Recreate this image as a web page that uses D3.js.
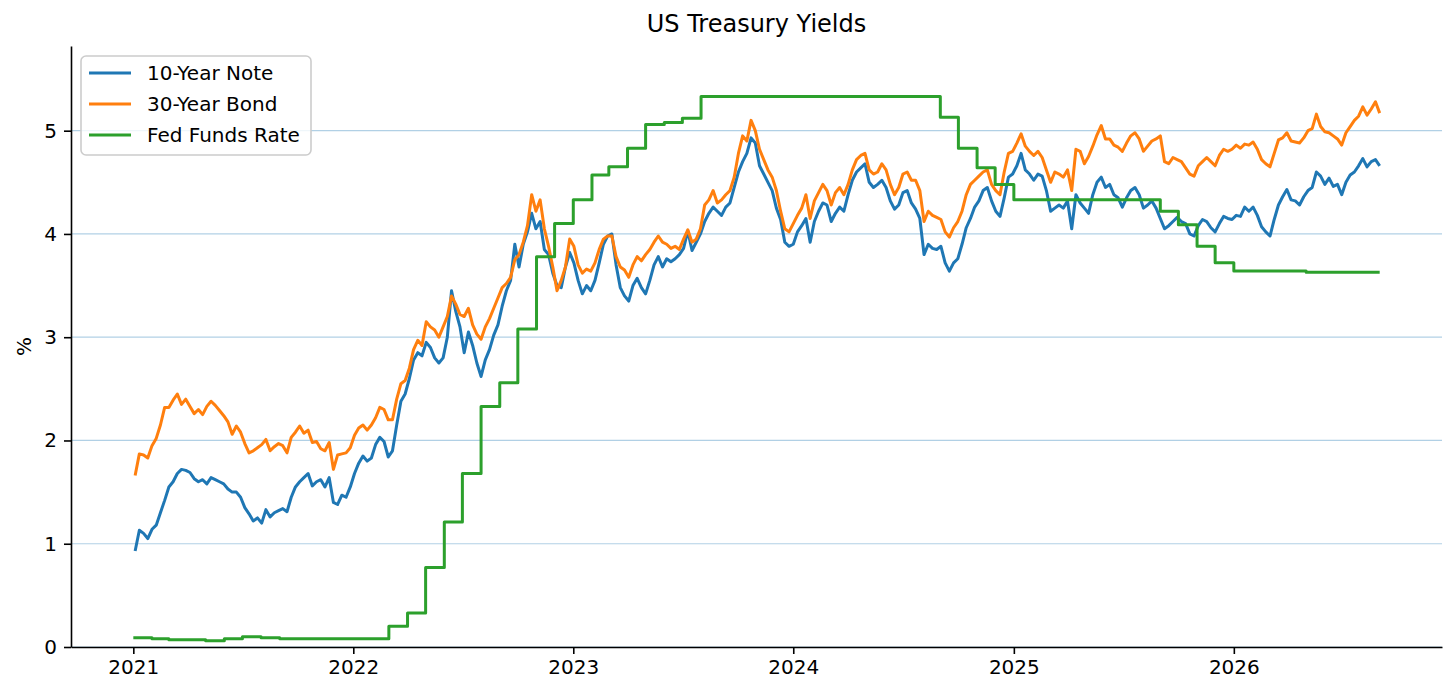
<!DOCTYPE html>
<html lang="en">
<head>
<meta charset="utf-8">
<title>US Treasury Yields</title>
<style>
  body { margin: 0; background: #fff; }
  text { font-family: "DejaVu Sans", sans-serif; fill: #000; }
  .grid line { stroke: #1f77b4; stroke-opacity: 0.35; stroke-width: 1.2px; }
  .axis path, .axis line { stroke: #000; stroke-width: 1.6px; }
  .axis text { font-size: 20px; }
  .series { fill: none; stroke-width: 3px; stroke-linejoin: round; }
</style>
</head>
<body>
<div id="chart"></div>
<script src="https://cdn.jsdelivr.net/npm/d3@7"></script>
<script>
// weekly closes (Mondays), one array per calendar year
var tenYear2021 = [0.93,1.13,1.10,1.05,1.14,1.18,1.30,1.42,1.55,1.60,1.68,1.72,
                   1.71,1.69,1.63,1.60,1.62,1.58,1.64,1.62,1.60,1.58,1.53,1.50,
                   1.50,1.45,1.35,1.29,1.22,1.25,1.20,1.33,1.26,1.30,1.32,1.34,
                   1.31,1.45,1.55,1.60,1.64,1.68,1.56,1.60,1.62,1.55,1.64,1.40,
                   1.38,1.47,1.45,1.55];
var tenYear2022 = [1.68,1.78,1.85,1.80,1.83,1.96,2.03,1.99,1.84,1.90,2.15,2.38,
                   2.45,2.60,2.78,2.85,2.82,2.95,2.90,2.80,2.75,2.80,3.00,3.45,
                   3.25,3.10,2.85,3.05,2.92,2.75,2.62,2.78,2.88,3.02,3.12,3.30,
                   3.45,3.55,3.90,3.68,3.90,4.02,4.20,4.05,4.12,3.85,3.80,3.62,
                   3.50,3.48,3.68,3.82];
var tenYear2023 = [3.72,3.55,3.42,3.50,3.45,3.55,3.72,3.90,3.98,4.00,3.70,3.48,
                   3.40,3.35,3.50,3.57,3.48,3.42,3.55,3.70,3.78,3.68,3.76,3.73,
                   3.76,3.80,3.86,4.03,3.84,3.92,4.00,4.12,4.20,4.26,4.22,4.18,
                   4.26,4.30,4.45,4.60,4.70,4.78,4.93,4.88,4.66,4.58,4.50,4.42,
                   4.25,4.14,3.92,3.88];
var tenYear2024 = [3.90,4.02,4.08,4.15,3.92,4.12,4.22,4.30,4.28,4.12,4.20,4.26,
                   4.22,4.38,4.52,4.60,4.64,4.68,4.50,4.45,4.48,4.52,4.45,4.32,
                   4.24,4.28,4.40,4.42,4.30,4.24,4.15,3.80,3.90,3.86,3.85,3.88,
                   3.72,3.64,3.72,3.76,3.90,4.06,4.15,4.26,4.32,4.42,4.45,4.32,
                   4.22,4.17,4.35,4.55];
var tenYear2025 = [4.58,4.66,4.78,4.62,4.58,4.52,4.58,4.56,4.42,4.22,4.25,4.28,
                   4.25,4.32,4.05,4.38,4.30,4.25,4.20,4.38,4.50,4.55,4.45,4.48,
                   4.38,4.35,4.26,4.35,4.42,4.45,4.38,4.25,4.28,4.32,4.25,4.15,
                   4.05,4.08,4.12,4.16,4.12,4.10,4.00,3.98,4.08,4.14,4.12,4.06,
                   4.02,4.10,4.17,4.15];
var tenYear2026 = [4.14,4.18,4.17,4.26,4.22,4.26,4.18,4.07,4.02,3.98,4.14,4.28,
                   4.36,4.43,4.33,4.32,4.28,4.36,4.42,4.45,4.60,4.56,4.48,4.54,
                   4.46,4.48,4.38,4.50,4.57,4.60,4.66,4.73,4.65,4.70,4.72,4.66];

var thirtyYear2021 = [1.66,1.87,1.86,1.83,1.95,2.02,2.15,2.32,2.32,2.39,2.45,2.35,
                      2.40,2.33,2.26,2.30,2.25,2.33,2.38,2.34,2.29,2.24,2.18,2.06,
                      2.14,2.08,1.97,1.88,1.90,1.93,1.96,2.01,1.90,1.94,1.97,1.95,
                      1.88,2.03,2.08,2.14,2.07,2.10,1.98,1.99,1.92,1.90,1.98,1.72,
                      1.86,1.87,1.88,1.93];
var thirtyYear2022 = [2.05,2.12,2.15,2.10,2.15,2.22,2.32,2.30,2.20,2.20,2.40,2.55,
                      2.58,2.70,2.88,2.97,2.92,3.15,3.10,3.07,3.00,3.10,3.20,3.40,
                      3.32,3.22,3.20,3.28,3.12,3.03,2.98,3.10,3.18,3.28,3.38,3.48,
                      3.52,3.58,3.75,3.80,3.92,4.08,4.38,4.22,4.33,4.05,3.88,3.68,
                      3.45,3.55,3.68,3.95];
var thirtyYear2023 = [3.88,3.70,3.62,3.66,3.64,3.72,3.85,3.95,3.98,3.98,3.78,3.68,
                      3.65,3.58,3.70,3.78,3.74,3.80,3.85,3.92,3.98,3.92,3.90,3.86,
                      3.88,3.85,3.95,4.04,3.92,3.95,4.05,4.28,4.33,4.42,4.30,4.33,
                      4.38,4.42,4.55,4.78,4.95,4.90,5.10,5.00,4.82,4.72,4.62,4.55,
                      4.42,4.22,4.05,4.02];
var thirtyYear2024 = [4.10,4.18,4.25,4.38,4.15,4.32,4.40,4.48,4.42,4.28,4.40,4.45,
                      4.38,4.48,4.62,4.72,4.76,4.78,4.62,4.58,4.60,4.68,4.62,4.48,
                      4.38,4.45,4.58,4.60,4.52,4.52,4.42,4.12,4.22,4.18,4.16,4.14,
                      4.02,3.97,4.06,4.12,4.22,4.38,4.48,4.52,4.56,4.60,4.62,4.48,
                      4.42,4.38,4.60,4.78];
var thirtyYear2025 = [4.80,4.88,4.97,4.85,4.80,4.76,4.80,4.74,4.62,4.50,4.60,4.58,
                      4.55,4.62,4.42,4.82,4.80,4.68,4.75,4.85,4.96,5.05,4.92,4.92,
                      4.86,4.84,4.80,4.88,4.95,4.98,4.92,4.80,4.85,4.90,4.92,4.95,
                      4.70,4.68,4.74,4.72,4.70,4.64,4.58,4.56,4.66,4.70,4.74,4.70,
                      4.66,4.76,4.82,4.80];
var thirtyYear2026 = [4.82,4.86,4.83,4.87,4.86,4.89,4.82,4.72,4.68,4.65,4.78,4.91,
                      4.93,4.98,4.90,4.89,4.88,4.93,5.00,5.02,5.16,5.04,4.99,4.98,
                      4.95,4.92,4.86,4.98,5.04,5.10,5.14,5.23,5.15,5.21,5.28,5.17];

// monthly effective fed funds rate
var fed2021 = [0.09,0.08,0.07,0.07,0.06,0.08,0.10,0.09,0.08,0.08,0.08,0.08];
var fed2022 = [0.08,0.08,0.20,0.33,0.77,1.21,1.68,2.33,2.56,3.08,3.78,4.10];
var fed2023 = [4.33,4.57,4.65,4.83,5.06,5.08,5.12,5.33,5.33,5.33,5.33,5.33];
var fed2024 = [5.33,5.33,5.33,5.33,5.33,5.33,5.33,5.33,5.13,4.83,4.64,4.48];
var fed2025 = [4.33,4.33,4.33,4.33,4.33,4.33,4.33,4.33,4.22,4.09,3.88,3.72];
var fed2026 = [3.64,3.64,3.64,3.64,3.63,3.63,3.63,3.63];

var yTicks = [0, 1, 2, 3, 4, 5];
var years = [2021, 2022, 2023, 2024, 2025, 2026];
var seriesNames = ['10-Year Note', '30-Year Bond', 'Fed Funds Rate'];
var colors = ['#1f77b4', '#ff7f0e', '#2ca02c'];

var tenYear = [].concat(tenYear2021, tenYear2022, tenYear2023, tenYear2024, tenYear2025, tenYear2026);
var thirtyYear = [].concat(thirtyYear2021, thirtyYear2022, thirtyYear2023, thirtyYear2024, thirtyYear2025, thirtyYear2026);
var fedFunds = [].concat(fed2021, fed2022, fed2023, fed2024, fed2025, fed2026);

var firstWeek = new Date(2021, 0, 4),
    firstMonth = new Date(2021, 0, 1);

var weeks = tenYear.map(function(d, i) { return d3.timeDay.offset(firstWeek, 7 * i); });
var months = fedFunds.map(function(d, i) { return d3.timeMonth.offset(firstMonth, i); });
var lastDay = weeks[weeks.length - 1];

var tenData = tenYear.map(function(v, i) { return {date: weeks[i], value: v}; });
var thirtyData = thirtyYear.map(function(v, i) { return {date: weeks[i], value: v}; });
var fedData = fedFunds.map(function(v, i) { return {date: months[i], value: v}; });
fedData.push({date: lastDay, value: fedFunds[fedFunds.length - 1]});

var width = 1456,
    height = 697,
    plotLeft = 71, plotRight = 1442, plotTop = 46, plotBottom = 647;

// 5% padding either side, like matplotlib's default margins
var t0 = firstMonth.getTime(), t1 = lastDay.getTime(), pad = (t1 - t0) * 0.05;

var x = d3.scaleTime()
          .domain([new Date(t0 - pad), new Date(t1 + pad)])
          .range([plotLeft, plotRight]);

var y = d3.scaleLinear()
          .domain([0, 5.82])
          .range([plotBottom, plotTop]);

var svg = d3.select('#chart')
            .append('svg')
            .attr('width', width)
            .attr('height', height);

svg.append('g')
   .classed('grid', true)
   .selectAll('line')
   .data(yTicks)
   .enter()
       .append('line')
       .attr('x1', plotLeft)
       .attr('x2', plotRight)
       .attr('y1', function(d) { return y(d); })
       .attr('y2', function(d) { return y(d); });

var line = d3.line()
             .x(function(d) { return x(d.date); })
             .y(function(d) { return y(d.value); });

var stepLine = d3.line()
                 .curve(d3.curveStepAfter)
                 .x(function(d) { return x(d.date); })
                 .y(function(d) { return y(d.value); });

svg.append('path').classed('series', true).attr('stroke', colors[0]).attr('d', line(tenData));
svg.append('path').classed('series', true).attr('stroke', colors[1]).attr('d', line(thirtyData));
svg.append('path').classed('series', true).attr('stroke', colors[2]).attr('d', stepLine(fedData));

svg.append('g')
   .classed('axis', true)
   .attr('transform', 'translate(0,' + plotBottom + ')')
   .call(d3.axisBottom(x)
           .tickValues(years.map(function(yr) { return new Date(yr, 0, 1); }))
           .tickFormat(d3.timeFormat('%Y'))
           .tickSize(7)
           .tickSizeOuter(0)
           .tickPadding(6));

svg.append('g')
   .classed('axis', true)
   .attr('transform', 'translate(' + plotLeft + ',0)')
   .call(d3.axisLeft(y)
           .tickValues(yTicks)
           .tickFormat(d3.format('d'))
           .tickSize(7)
           .tickSizeOuter(0)
           .tickPadding(7));

svg.selectAll('.axis text').attr('fill', '#000');

svg.append('text')
   .attr('x', (plotLeft + plotRight) / 2)
   .attr('y', 32)
   .attr('text-anchor', 'middle')
   .style('font-size', '24px')
   .text('US Treasury Yields');

svg.append('text')
   .attr('transform', 'translate(31,' + (plotTop + plotBottom) / 2 + ') rotate(-90)')
   .attr('text-anchor', 'middle')
   .style('font-size', '20px')
   .text('%');

// legend
var legend = svg.append('g');

legend.append('rect')
      .attr('x', 81)
      .attr('y', 56)
      .attr('width', 230)
      .attr('height', 99)
      .attr('rx', 5)
      .attr('fill', '#fff')
      .attr('fill-opacity', 0.8)
      .attr('stroke', '#cccccc')
      .attr('stroke-width', 1.6);

var rows = legend.selectAll('.entry')
                 .data(seriesNames)
                 .enter()
                     .append('g')
                     .attr('transform', function(d, i) { return 'translate(0,' + (73 + i * 31) + ')'; });

rows.append('line')
    .attr('x1', 89)
    .attr('x2', 131)
    .attr('stroke', function(d, i) { return colors[i]; })
    .attr('stroke-width', 3);

rows.append('text')
    .attr('x', 147)
    .attr('y', 7)
    .style('font-size', '20px')
    .text(function(d) { return d; });
</script>
</body>
</html>
